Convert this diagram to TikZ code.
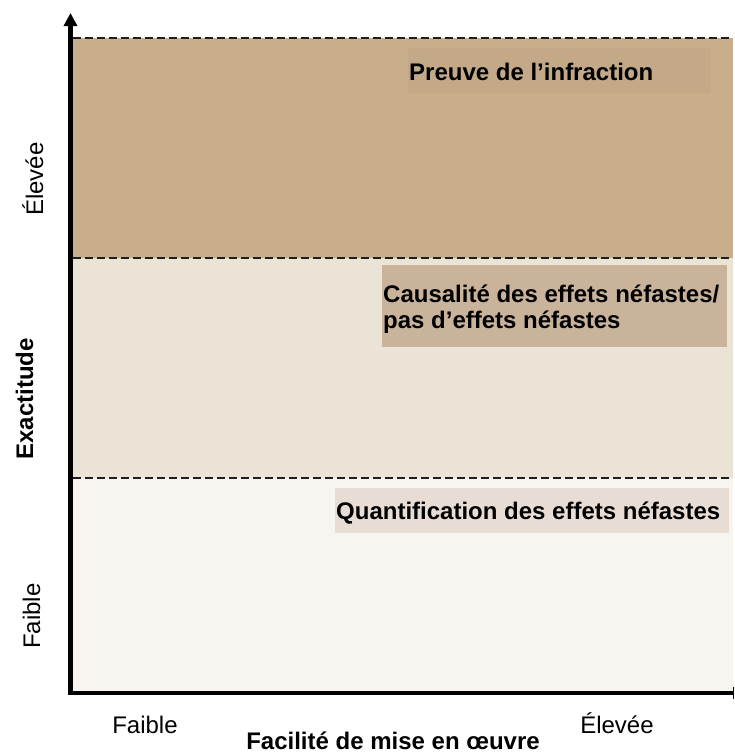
\documentclass[tikz,border=0pt]{standalone}
\usepackage{fontspec}
\setmainfont{Liberation Sans}
\usetikzlibrary{arrows.meta}
\definecolor{topband}{HTML}{C8AE8B}
\definecolor{midband}{HTML}{EBE3D5}
\definecolor{lowband}{HTML}{F8F5F0}
\definecolor{preuvefill}{HTML}{C3A988}
\definecolor{causefill}{HTML}{C9B49B}
\definecolor{quantfill}{HTML}{E7DDD4}
\definecolor{dashcol}{HTML}{1E1E1E}
\tikzset{
  lbl/.style={font=\fontsize{24}{27}\selectfont\bfseries, inner sep=0pt, text=black},
  tick/.style={font=\fontsize{24}{27}\selectfont, inner sep=0pt, text=black},
  sep/.style={draw=dashcol, line width=2.5pt, dash pattern=on 7.5pt off 4.5pt},
  axis/.style={draw=black, line width=4.5pt},
}
\begin{document}
\begin{tikzpicture}[x=1pt, y=-1pt]
\useasboundingbox (0,0) rectangle (735,753);
% bands
\fill[topband] (73,38) rectangle (733,258);
\fill[midband] (73,258) rectangle (733,478);
\fill[lowband] (73,478) rectangle (733,691);
% label boxes
\fill[preuvefill] (408,48) rectangle (711,93);
\fill[causefill] (382,265) rectangle (727,347);
\fill[quantfill] (335,488) rectangle (729,533);
% separators
\coordinate (s1a) at (73,38);  \coordinate (s1b) at (733,38);
\coordinate (s2a) at (73,258); \coordinate (s2b) at (733,258);
\coordinate (s3a) at (73,478); \coordinate (s3b) at (733,478);
\draw[sep] (s1a) -- (s1b);
\draw[sep] (s2a) -- (s2b);
\draw[sep] (s3a) -- (s3b);
% box texts
\node[lbl, anchor=base west] (preuve) at (409,80) {Preuve de l’infraction};
\node[lbl, anchor=base west] (cause1) at (383,302) {Causalité des effets néfastes/};
\node[lbl, anchor=base west] (cause2) at (383,328) {pas d’effets néfastes};
\node[lbl, anchor=base west] (quant) at (336,519) {Quantification des effets néfastes};
% axes
\coordinate (origin) at (70.5,693);
\coordinate (ytop) at (70.5,13);
\coordinate (xend) at (733,693);
\draw[axis, -{Triangle[width=13pt,length=13pt]}] (70.5,695) -- (ytop);
\draw[axis] (68,693) -- (xend);
\draw[line width=1pt] (733,687) -- (733,699);
% axis labels
\node[tick, rotate=90, anchor=base] (yhigh) at (43,179) {Élevée};
\node[tick, rotate=90, anchor=base] (ylow) at (40,616) {Faible};
\node[lbl, rotate=90, anchor=base] (ytitle) at (33,399) {Exactitude};
\node[tick, anchor=base] (xlow) at (145,733) {Faible};
\node[tick, anchor=base] (xhigh) at (617,733) {Élevée};
\node[lbl, anchor=base] (xtitle) at (393,749) {Facilité de mise en œuvre};
\end{tikzpicture}
\end{document}
